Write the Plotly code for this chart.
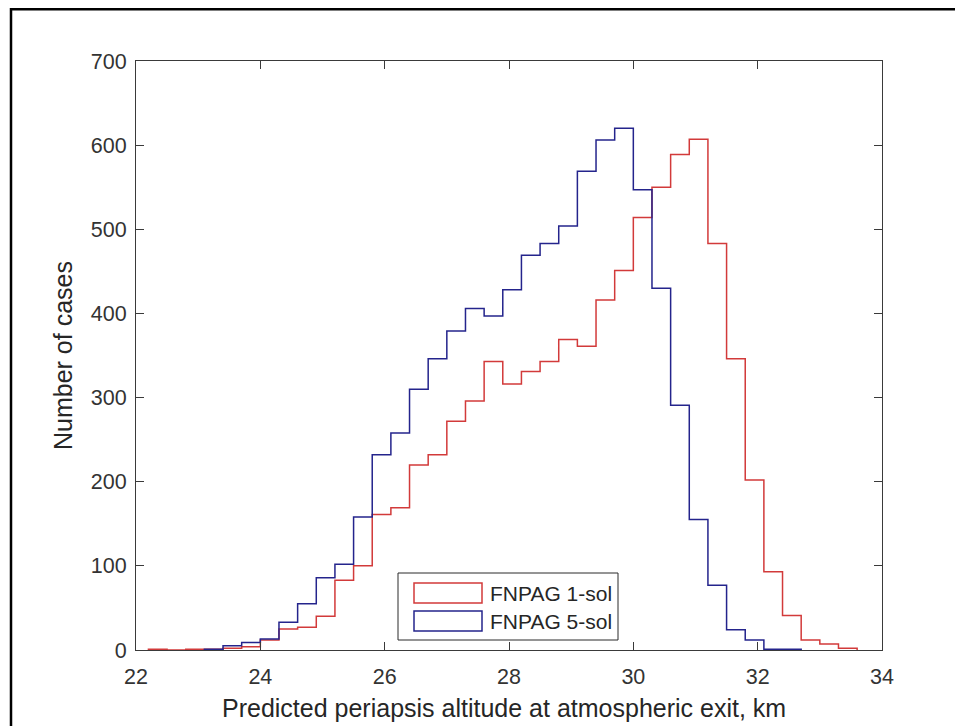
import plotly.graph_objects as go

# ---- data (histogram counts, bin width 0.3 km) ----
bin_width = 0.3
red_first_edge = 22.2
red_counts = [1, 0, 1, 1, 2, 4, 12, 25, 27, 40, 83, 100, 161, 169, 220, 232,
              272, 296, 343, 316, 331, 343, 369, 361, 416, 451, 514, 550, 589,
              607, 483, 346, 202, 93, 41, 12, 7, 2]
blue_first_edge = 23.1
blue_counts = [1, 5, 9, 13, 33, 55, 86, 102, 158, 232, 258, 310, 346, 379,
               406, 397, 428, 469, 483, 504, 569, 606, 620, 547, 430, 291, 155,
               77, 24, 12, 1, 1]
series_names = ["FNPAG 1-sol", "FNPAG 5-sol"]
x_ticks = [22, 24, 26, 28, 30, 32, 34]
y_ticks = [0, 100, 200, 300, 400, 500, 600, 700]
x_title = "Predicted periapsis altitude at atmospheric exit, km"
y_title = "Number of cases"

RED = "#d23a3a"
BLUE = "#24248c"
AX = "#3a3a3a"
FONT = "Liberation Sans, Arial, Helvetica, sans-serif"


def stairs(first_edge, counts):
    edges = [round(first_edge + i * bin_width, 4) for i in range(len(counts) + 1)]
    xs = [edges[0]] + edges[:-1] + [edges[-1], edges[-1]]
    ys = [0] + list(counts) + [counts[-1], 0]
    return xs, ys


fig = go.Figure()
for (fe, cnt, col, nm) in [(red_first_edge, red_counts, RED, series_names[0]),
                           (blue_first_edge, blue_counts, BLUE, series_names[1])]:
    xs, ys = stairs(fe, cnt)
    fig.add_trace(go.Scatter(x=xs, y=ys, mode="lines", name=nm,
                             line=dict(color=col, width=1.5, shape="hv"),
                             showlegend=False))

# page body has an 8px margin: work in screen pixels and subtract it
OFF = 8
W, H = 963 - OFF, 726 - OFF
L, R, T, B = 136 - OFF, 882 - OFF, 61 - OFF, 650 - OFF


def px(xs):
    return (xs - OFF - L) / (R - L)


def py(ys):
    return (B - (ys - OFF)) / (B - T)


shapes = []
# outer frame (figure border)
shapes.append(dict(type="rect", xref="paper", yref="paper",
                   x0=px(11), x1=px(990), y0=py(760), y1=py(9.3),
                   line=dict(color="black", width=2.5), layer="above"))
# manual legend (MATLAB style, patch swatches)
shapes.append(dict(type="rect", xref="paper", yref="paper",
                   x0=px(398), x1=px(618), y0=py(640), y1=py(573),
                   line=dict(color="#2a2a2a", width=1), fillcolor="white",
                   layer="above"))
annotations = []
for i, (nm, col) in enumerate(zip(series_names, [RED, BLUE])):
    yc = 593 + i * 28
    shapes.append(dict(type="rect", xref="paper", yref="paper",
                       x0=px(414), x1=px(482), y0=py(yc + 10), y1=py(yc - 10),
                       line=dict(color=col, width=1.5), fillcolor="white",
                       layer="above"))
    annotations.append(dict(xref="paper", yref="paper", x=px(488), y=py(yc),
                            text=nm, showarrow=False, xanchor="left",
                            yanchor="middle",
                            font=dict(family=FONT, size=21, color="#262626")))

annotations.append(dict(xref="paper", yref="paper", x=px(504), y=py(708),
                        text=x_title, showarrow=False, xanchor="center",
                        yanchor="middle",
                        font=dict(family=FONT, size=25, color="#262626")))
annotations.append(dict(xref="paper", yref="paper", x=px(63), y=py(356),
                        text=y_title, showarrow=False, textangle=-90,
                        xanchor="center", yanchor="middle",
                        font=dict(family=FONT, size=25, color="#262626")))

axis_common = dict(showgrid=False, zeroline=False, showline=True, mirror="ticks",
                   linecolor=AX, linewidth=1, ticks="inside", ticklen=8,
                   tickcolor=AX, tickwidth=1,
                   tickfont=dict(family=FONT, size=21.5, color="#333333"))

fig.update_layout(
    width=W, height=H,
    margin=dict(l=L, r=W - R, t=T, b=H - B, pad=0),
    paper_bgcolor="white", plot_bgcolor="white",
    xaxis=dict(range=[22, 34], tickvals=x_ticks, ticktext=[str(v) for v in x_ticks],
               ticklabelstandoff=7, **axis_common),
    yaxis=dict(range=[0, 700], tickvals=y_ticks, ticktext=[str(v) for v in y_ticks],
               ticklabelstandoff=4, **axis_common),
    shapes=shapes, annotations=annotations, showlegend=False,
)

fig.write_html("out.html")
